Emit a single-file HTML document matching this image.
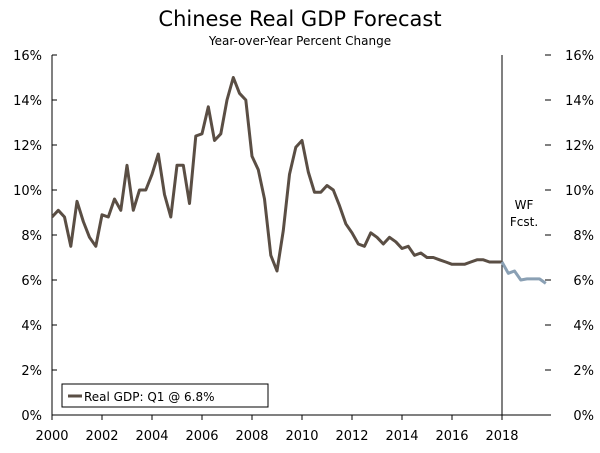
<!DOCTYPE html>
<html><head><meta charset="utf-8"><style>
body{margin:0;background:#fff;}
svg text{font-family:"DejaVu Sans","Liberation Sans",sans-serif;fill:#000;}
</style></head><body>
<svg id="chart" width="600" height="448" viewBox="0 0 600 448">
<text x="300" y="26" font-size="21" text-anchor="middle">Chinese Real GDP Forecast</text>
<text x="300" y="45" font-size="12" text-anchor="middle">Year-over-Year Percent Change</text>
<g id="axes"></g>
<g id="series"></g>
<text x="524" y="209" font-size="12" text-anchor="middle">WF</text>
<text x="524" y="226" font-size="12" text-anchor="middle">Fcst.</text>
<g>
<rect x="62" y="384" width="206" height="23" fill="#fff" stroke="#000" stroke-width="1"/>
<line x1="68" y1="396" x2="82" y2="396" stroke="#5a4e44" stroke-width="3"/>
<text x="84" y="401" font-size="12">Real GDP: Q1 @ 6.8%</text>
</g>
</svg>
<script>
const actual = [8.8,9.1,8.8,7.5, 9.5,8.6,7.9,7.5, 8.9,8.8,9.6,9.1, 11.1,9.1,10.0,10.0,
 10.7,11.6,9.8,8.8, 11.1,11.1,9.4,12.4, 12.5,13.7,12.2,12.5, 14.0,15.0,14.3,14.0,
 11.5,10.9,9.6,7.1, 6.4,8.2,10.7,11.9, 12.2,10.8,9.9,9.9, 10.2,10.0,9.3,8.5,
 8.1,7.6,7.5,8.1, 7.9,7.6,7.9,7.7, 7.4,7.5,7.1,7.2, 7.0,7.0,6.9,6.8,
 6.7,6.7,6.7,6.8, 6.9,6.9,6.8,6.8, 6.8];
const forecast = [6.8,6.3,6.4,6.0,6.05,6.05,6.05,5.85];
const yTicks = [0,2,4,6,8,10,12,14,16];
const xTicks = [2000,2002,2004,2006,2008,2010,2012,2014,2016,2018];
const NS='http://www.w3.org/2000/svg';
const x0=52,x1=548,yTop=55,yBot=415;
const xs = t => x0 + (t-2000)*25;
const ys = v => yBot - v/16*(yBot-yTop);
function mk(tag,attrs,parent){const e=document.createElementNS(NS,tag);for(const k in attrs)e.setAttribute(k,attrs[k]);parent.appendChild(e);return e;}
const ax=document.getElementById('axes'), se=document.getElementById('series');
let e;
e=mk('line',{x1:x0,y1:yTop,x2:x0,y2:yBot,stroke:'#000','stroke-width':1},ax);


e=mk('line',{x1:x0,y1:yBot,x2:x1,y2:yBot,stroke:'#000','stroke-width':1},ax);


e=mk('line',{x1:xs(2018),y1:yTop,x2:xs(2018),y2:yBot,stroke:'#000','stroke-width':1},ax);


yTicks.forEach(v=>{
 const y=ys(v);
 e=mk('line',{x1:x0,y1:y,x2:x0+5,y2:y,stroke:'#000'},ax);
 
 
 e=mk('line',{x1:x1-3,y1:y,x2:x1+3,y2:y,stroke:'#000'},ax);
 
 
 e=mk('text',{x:42,y:y+5,'font-size':13,'text-anchor':'end'},ax);e.textContent=v+'%';
 
 
 e=mk('text',{x:594,y:y+5,'font-size':13,'text-anchor':'end'},ax);e.textContent=v+'%';
 
 
});
xTicks.forEach(t=>{
 const x=xs(t);
 e=mk('line',{x1:x,y1:yBot,x2:x,y2:yBot+5,stroke:'#000'},ax);
 
 
 e=mk('text',{x:x,y:440,'font-size':13,'text-anchor':'middle'},ax);e.textContent=t;
 
 
});
const pa=actual.map((v,i)=>xs(2000+i/4).toFixed(1)+','+ys(v).toFixed(1)).join(' ');
e=mk('polyline',{points:pa,fill:'none',stroke:'#5a4e44','stroke-width':3,'stroke-linejoin':'round'},se);


const pf=forecast.map((v,i)=>xs(2018+i/4).toFixed(1)+','+ys(v).toFixed(1)).join(' ');
e=mk('polyline',{points:pf,fill:'none',stroke:'#8aa0b4','stroke-width':3,'stroke-linejoin':'round'},se);


</script>
</body></html>
